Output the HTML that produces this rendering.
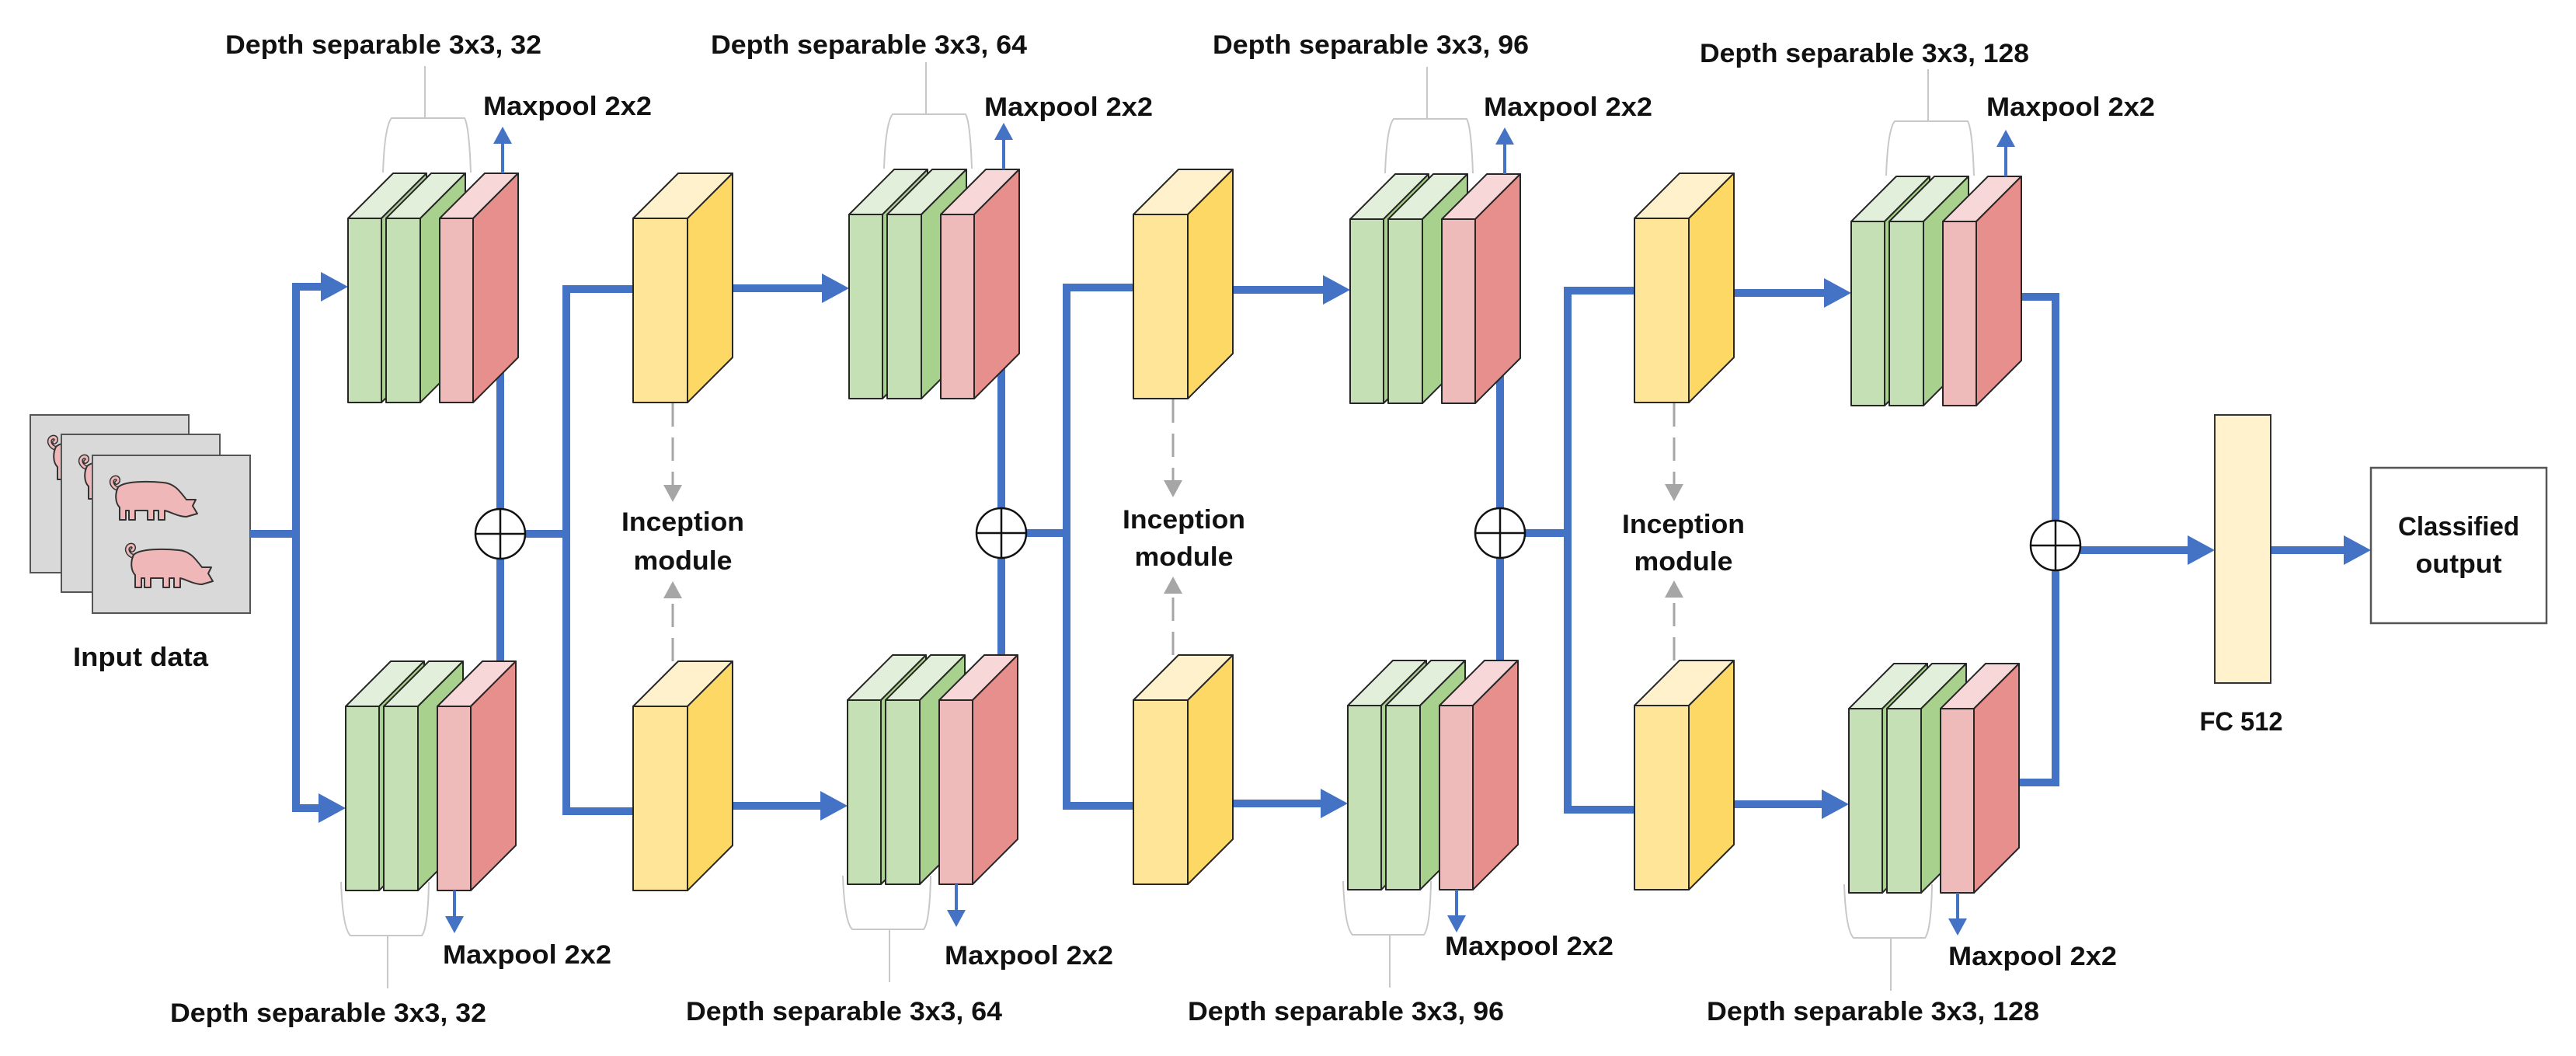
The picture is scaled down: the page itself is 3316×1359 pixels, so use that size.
<!DOCTYPE html>
<html><head><meta charset="utf-8"><style>
html,body{margin:0;padding:0;background:#fff;}
svg{display:block;}
text{font-family:"Liberation Sans",Arial,sans-serif;font-weight:bold;font-size:34px;fill:#111;}
</style></head><body>
<svg width="3316" height="1359" viewBox="0 0 3316 1359" xmlns="http://www.w3.org/2000/svg">
<defs>
<g id="blk" stroke="#262626" stroke-width="2" stroke-linejoin="round">
  <rect x="0" y="0" width="43" height="237" fill="#c5e0b4"/>
  <polygon points="0,0 58,-58 101,-58 43,0" fill="#e2efda"/>
  <polygon points="43,0 101,-58 101,179 43,237" fill="#a9d18e"/>
  <rect x="49" y="0" width="44" height="237" fill="#c5e0b4"/>
  <polygon points="49,0 107,-58 151,-58 93,0" fill="#e2efda"/>
  <polygon points="93,0 151,-58 151,179 93,237" fill="#a9d18e"/>
  <rect x="118" y="0" width="43" height="237" fill="#efbaba"/>
  <polygon points="118,0 176,-58 219,-58 161,0" fill="#f7d7d7"/>
  <polygon points="161,0 219,-58 219,179 161,237" fill="#e68f8c"/>
</g>
<g id="yel" stroke="#262626" stroke-width="2" stroke-linejoin="round">
  <rect x="0" y="0" width="70" height="237" fill="#ffe597"/>
  <polygon points="0,0 58,-58 128,-58 70,0" fill="#fff1cb"/>
  <polygon points="70,0 128,-58 128,179 70,237" fill="#fdd864"/>
</g>
<g id="pig">
  <path d="M12,16 C4,14 1,5 7,2 C12,0 14,6 10,8" fill="none" stroke="#333" stroke-width="6" stroke-linecap="round"/>
  <path d="M12,16 C4,14 1,5 7,2 C12,0 14,6 10,8" fill="none" stroke="#efb7b7" stroke-width="3" stroke-linecap="round"/>
  <path d="M12,14 C20,6 50,6 70,8 C85,9 92,20 100,30 L112,30 L108,38 L114,48 L100,52 C90,52 80,46 72,44 L72,56 L64,56 L64,44 L58,44 L58,56 L50,56 L50,44 L34,44 L34,56 L26,56 L26,44 L22,44 L22,56 L14,56 L14,40 C8,34 8,22 12,14 Z" fill="#efb7b7" stroke="#333" stroke-width="2" stroke-linejoin="round"/>
</g>
<g id="brT" fill="none" stroke="#c8c8c8" stroke-width="2"><path d="M45,-59 Q47,-118 56,-129 L150,-129 Q156,-118 158,-59 M99,-129 V-196"/></g>
<g id="brB" fill="none" stroke="#c8c8c8" stroke-width="2"><path d="M-6,226 Q-4,285 6,295 L98,295 Q106,285 107,226 M54,295 V363"/></g>
</defs>

<!-- input cards -->
<g stroke="#555" stroke-width="2">
  <rect x="39" y="534" width="204" height="203" fill="#d9d9d9"/>
  <use href="#pig" x="60" y="561"/>
  <rect x="79" y="559" width="204" height="203" fill="#d9d9d9"/>
  <use href="#pig" x="100" y="586"/>
  <rect x="119" y="586" width="203" height="203" fill="#d9d9d9"/>
  <use href="#pig" x="140" y="613"/>
  <use href="#pig" x="160" y="700"/>
</g>

<!-- blue thick connectors -->
<g fill="none" stroke="#4472c4" stroke-width="10" stroke-linejoin="miter">
  <path d="M322,687 H381 M381,369 V1040 M376,369 H420 M376,1040 H418"/>
  <path d="M644,470 V875 M644,687 H729 M729,367 V1049 M724,372 H830 M724,1044 H830"/>
  <path d="M900,371 H1063 M900,1037 H1061"/>
  <path d="M1289,470 V865 M1289,686 H1373 M1373,365 V1042 M1368,370 H1475 M1368,1037 H1475"/>
  <path d="M1545,373 H1708 M1545,1034 H1705"/>
  <path d="M1931,470 V870 M1931,686 H2018 M2018,369 V1047 M2013,374 H2120 M2013,1042 H2120"/>
  <path d="M2190,377 H2353 M2190,1035 H2350"/>
  <path d="M2590,382 H2646 V1007 H2590"/>
  <path d="M2678,708 H2820 M2923,708 H3020"/>
</g>
<g fill="#4472c4">
  <polygon points="448,369 413,350 413,388"/>
  <polygon points="445,1040 410,1021 410,1059"/>
  <polygon points="1093,371 1058,352 1058,390"/>
  <polygon points="1091,1037 1056,1018 1056,1056"/>
  <polygon points="1738,373 1703,354 1703,392"/>
  <polygon points="1735,1034 1700,1015 1700,1053"/>
  <polygon points="2383,377 2348,358 2348,396"/>
  <polygon points="2380,1035 2345,1016 2345,1054"/>
  <polygon points="2851,708 2816,689 2816,727"/>
  <polygon points="3052,708 3017,689 3017,727"/>
</g>

<!-- blocks -->
<use href="#blk" x="448" y="281"/>
<use href="#blk" x="445" y="909"/>
<use href="#blk" x="1093" y="276"/>
<use href="#blk" x="1091" y="901"/>
<use href="#blk" x="1738" y="282"/>
<use href="#blk" x="1735" y="908"/>
<use href="#blk" x="2383" y="285"/>
<use href="#blk" x="2380" y="912"/>
<use href="#yel" x="815" y="281"/>
<use href="#yel" x="815" y="909"/>
<use href="#yel" x="1459" y="276"/>
<use href="#yel" x="1459" y="901"/>
<use href="#yel" x="2104" y="281"/>
<use href="#yel" x="2104" y="908"/>

<!-- brackets -->
<use href="#brT" x="448" y="281"/>
<use href="#brT" x="1093" y="276"/>
<use href="#brT" x="1738" y="282"/>
<use href="#brT" x="2383" y="285"/>
<use href="#brB" x="445" y="909"/>
<use href="#brB" x="1091" y="901"/>
<use href="#brB" x="1735" y="908"/>
<use href="#brB" x="2380" y="912"/>

<!-- maxpool thin arrows -->
<g stroke="#4472c4" stroke-width="4" fill="none">
  <path d="M647,223 V180 M1292,218 V175 M1937,224 V181 M2582,227 V184"/>
  <path d="M585,1146 V1180 M1231,1138 V1172 M1875,1145 V1179 M2520,1149 V1183"/>
</g>
<g fill="#4472c4">
  <polygon points="647,163 635,185 659,185"/>
  <polygon points="1292,158 1280,180 1304,180"/>
  <polygon points="1937,164 1925,186 1949,186"/>
  <polygon points="2582,167 2570,189 2594,189"/>
  <polygon points="585,1201 573,1179 597,1179"/>
  <polygon points="1231,1193 1219,1171 1243,1171"/>
  <polygon points="1875,1200 1863,1178 1887,1178"/>
  <polygon points="2520,1204 2508,1182 2532,1182"/>
</g>

<!-- dashed gray arrows -->
<g stroke="#a6a6a6" stroke-width="3" fill="none" stroke-dasharray="30,14">
  <path d="M866,519 V626 M866,851 V768"/>
  <path d="M1510,514 V620 M1510,843 V762"/>
  <path d="M2155,519 V625 M2155,850 V768"/>
</g>
<g fill="#a6a6a6">
  <polygon points="866,646 854,624 878,624"/>
  <polygon points="866,748 854,770 878,770"/>
  <polygon points="1510,640 1498,618 1522,618"/>
  <polygon points="1510,742 1498,764 1522,764"/>
  <polygon points="2155,645 2143,623 2167,623"/>
  <polygon points="2155,747 2143,769 2167,769"/>
</g>

<!-- sum circles -->
<g stroke="#111" stroke-width="2.5" fill="#fff">
  <circle cx="644" cy="687" r="32"/><path d="M612,687 H676 M644,655 V719"/>
  <circle cx="1289" cy="686" r="32"/><path d="M1257,686 H1321 M1289,654 V718"/>
  <circle cx="1931" cy="686" r="32"/><path d="M1899,686 H1963 M1931,654 V718"/>
  <circle cx="2646" cy="702" r="32"/><path d="M2614,702 H2678 M2646,670 V734"/>
</g>

<!-- FC and output -->
<rect x="2851" y="534" width="72" height="345" fill="#fff2cc" stroke="#333" stroke-width="2"/>
<rect x="3052" y="602" width="226" height="200" fill="#fff" stroke="#555" stroke-width="2.5"/>

<!-- labels -->
<text x="290" y="69" textLength="407" lengthAdjust="spacingAndGlyphs">Depth separable 3x3, 32</text>
<text x="915" y="69" textLength="407" lengthAdjust="spacingAndGlyphs">Depth separable 3x3, 64</text>
<text x="1561" y="69" textLength="407" lengthAdjust="spacingAndGlyphs">Depth separable 3x3, 96</text>
<text x="2188" y="80" textLength="424" lengthAdjust="spacingAndGlyphs">Depth separable 3x3, 128</text>
<text x="622" y="148" textLength="217" lengthAdjust="spacingAndGlyphs">Maxpool 2x2</text>
<text x="1267" y="149" textLength="217" lengthAdjust="spacingAndGlyphs">Maxpool 2x2</text>
<text x="1910" y="149" textLength="217" lengthAdjust="spacingAndGlyphs">Maxpool 2x2</text>
<text x="2557" y="149" textLength="217" lengthAdjust="spacingAndGlyphs">Maxpool 2x2</text>
<text x="570" y="1240" textLength="217" lengthAdjust="spacingAndGlyphs">Maxpool 2x2</text>
<text x="1216" y="1241" textLength="217" lengthAdjust="spacingAndGlyphs">Maxpool 2x2</text>
<text x="1860" y="1229" textLength="217" lengthAdjust="spacingAndGlyphs">Maxpool 2x2</text>
<text x="2508" y="1242" textLength="217" lengthAdjust="spacingAndGlyphs">Maxpool 2x2</text>
<text x="219" y="1315" textLength="407" lengthAdjust="spacingAndGlyphs">Depth separable 3x3, 32</text>
<text x="883" y="1313" textLength="407" lengthAdjust="spacingAndGlyphs">Depth separable 3x3, 64</text>
<text x="1529" y="1313" textLength="407" lengthAdjust="spacingAndGlyphs">Depth separable 3x3, 96</text>
<text x="2197" y="1313" textLength="428" lengthAdjust="spacingAndGlyphs">Depth separable 3x3, 128</text>
<g text-anchor="middle">
<text x="879" y="683" textLength="158" lengthAdjust="spacingAndGlyphs">Inception</text>
<text x="879" y="733" textLength="127" lengthAdjust="spacingAndGlyphs">module</text>
<text x="1524" y="680" textLength="158" lengthAdjust="spacingAndGlyphs">Inception</text>
<text x="1524" y="728" textLength="127" lengthAdjust="spacingAndGlyphs">module</text>
<text x="2167" y="686" textLength="158" lengthAdjust="spacingAndGlyphs">Inception</text>
<text x="2167" y="734" textLength="127" lengthAdjust="spacingAndGlyphs">module</text>
<text x="181" y="857" textLength="174" lengthAdjust="spacingAndGlyphs">Input data</text>
<text x="2885" y="940" textLength="107" lengthAdjust="spacingAndGlyphs">FC 512</text>
<text x="3165" y="689" textLength="156" lengthAdjust="spacingAndGlyphs">Classified</text>
<text x="3165" y="737" textLength="111" lengthAdjust="spacingAndGlyphs">output</text>
</g>
</svg>
</body></html>
